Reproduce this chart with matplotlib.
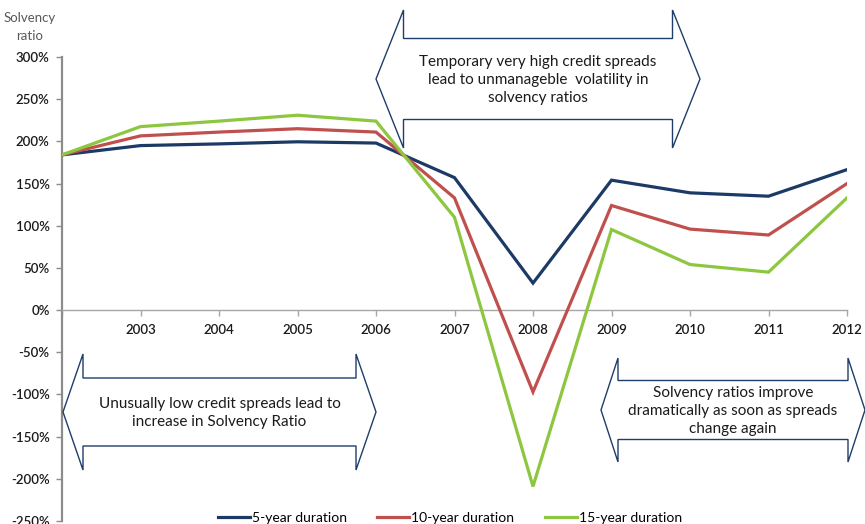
import matplotlib
matplotlib.use("Agg")
import matplotlib.pyplot as plt
from matplotlib.patches import Polygon
from matplotlib.lines import Line2D

plt.rcParams['font.family'] = ['Lato', 'DejaVu Sans']

# data
years = [2002, 2003, 2004, 2005, 2006, 2007, 2008, 2009, 2010, 2011, 2012]
tick_years = years[1:]
dur_5 = [184, 195, 197, 199.5, 198, 157, 32, 154, 139, 135, 166.5]
dur_10 = [184, 206.5, 211, 215, 211, 133, -97, 124, 96, 89, 150]
dur_15 = [184, 217.5, 224, 231, 224, 110, -209, 95.5, 54, 45, 133]
series_names = ['5-year duration', '10-year duration', '15-year duration']
series_colors = ['#1b3a66', '#c0504d', '#8dc63f']
y_ticks = [-250, -200, -150, -100, -50, 0, 50, 100, 150, 200, 250, 300]

W, H = 865, 524
fig = plt.figure(figsize=(W / 100, H / 100), dpi=100)
ax = fig.add_axes([62 / W, 3 / H, (847 - 62) / W, (521 - 57) / H])

for vals, name, col in zip([dur_5, dur_10, dur_15], series_names, series_colors):
    ax.plot(years, vals, color=col, lw=2.3, label=name, solid_joinstyle='miter', zorder=3)

ax.set_xlim(years[0], years[-1])
ax.set_ylim(y_ticks[0], y_ticks[-1])
ax.set_yticks(y_ticks)
ax.set_yticklabels([f'{v}%' for v in y_ticks])
ax.set_xticks(years)
ax.set_xticklabels([''] + [str(y) for y in tick_years])

for s in ['top', 'right']:
    ax.spines[s].set_visible(False)
ax.spines['bottom'].set_position(('data', 0))
ax.spines['bottom'].set_color('#a6a6a6')
ax.spines['bottom'].set_linewidth(1.0)
ax.spines['left'].set_color('#8c8c8c')
ax.spines['left'].set_linewidth(1.6)
ax.tick_params(axis='y', direction='out', length=4, width=1, color='#8c8c8c',
               labelsize=9.5, labelcolor='#1a1a1a', pad=5)
ax.tick_params(axis='x', direction='out', length=4, width=1, color='#a6a6a6',
               labelsize=9.5, labelcolor='#1a1a1a', pad=6)
for lab in ax.get_xticklabels() + ax.get_yticklabels():
    lab.set_fontweight('semibold')

fig.text(30 / W, 1 - 27 / H, 'Solvency\nratio', ha='center', va='center',
         fontsize=9.5, color='#595959', linespacing=1.55)


def px(x, y):
    return (x / W, 1 - y / H)


def double_arrow(x0, x1, yc, head, head_half, body_half, text):
    pts = [(x0, yc), (x0 + head, yc - head_half), (x0 + head, yc - body_half),
           (x1 - head, yc - body_half), (x1 - head, yc - head_half), (x1, yc),
           (x1 - head, yc + head_half), (x1 - head, yc + body_half),
           (x0 + head, yc + body_half), (x0 + head, yc + head_half)]
    poly = Polygon([px(*p) for p in pts], closed=True, transform=fig.transFigure,
                   facecolor='white', edgecolor='#1f3d6b', lw=1.0, zorder=5)
    fig.add_artist(poly)
    fig.text(*px((x0 + x1) / 2, yc + 1), text, ha='center', va='center', fontsize=11,
             color='#1a1a1a', linespacing=1.4, zorder=6)


double_arrow(376, 700, 79, 27.5, 69, 40.5,
             'Temporary very high credit spreads\nlead to unmanageble  volatility in\nsolvency ratios')
double_arrow(63, 376, 412, 20, 58, 34,
             'Unusually low credit spreads lead to\nincrease in Solvency Ratio')
double_arrow(601, 865, 410, 17, 52, 29.5,
             'Solvency ratios improve\ndramatically as soon as spreads\nchange again')

handles = [Line2D([], [], color=c, lw=2.3) for c in series_colors]
fig.legend(handles, series_names, loc='center', bbox_to_anchor=(450 / W, 1 - 518 / H),
           ncol=3, frameon=False, fontsize=10, handlelength=2.3, handletextpad=0.15,
           columnspacing=2.2)

fig.savefig('out.png', dpi=100)
